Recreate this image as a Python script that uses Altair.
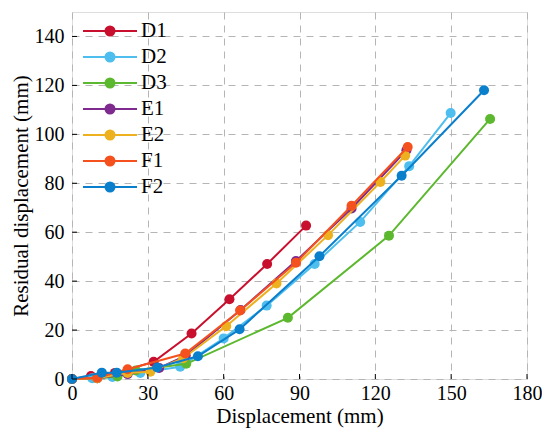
import altair as alt
import pandas as pd

series = ["D1", "D2", "D3", "E1", "E2", "F1", "F2"]
colors = ["#C8102E", "#4DBEEE", "#5CB82E", "#7E2A8E", "#EDB120", "#F4511E", "#0A7FCC"]

d1_x = [0, 7.5, 17, 32.3, 47.3, 62.3, 77.2, 92.6]
d1_y = [0, 1.2, 2.5, 7.0, 18.6, 32.6, 47.0, 62.7]
d2_x = [0, 8, 16, 27, 42.8, 60.0, 77.0, 96.0, 114.0, 133.4, 149.8]
d2_y = [0, 0.3, 0.8, 2.5, 5.0, 16.6, 30.0, 47.0, 64.2, 87.0, 108.7]
d3_x = [0, 10, 18, 25.3, 45.2, 85.4, 125.4, 165.4]
d3_y = [0, 0.3, 1.0, 3.5, 6.2, 25.0, 58.6, 106.3]
e1_x = [0, 10, 22, 34.5, 45, 66.7, 88.6, 110.6, 132.3]
e1_y = [0, 0.3, 2.0, 4.5, 9.5, 28.2, 48.2, 69.7, 93.5]
e2_x = [0, 10, 22, 31, 44, 61, 80.9, 101.3, 122, 131.8]
e2_y = [0, 0.3, 2.5, 3.0, 8.5, 21.6, 39.0, 58.8, 80.5, 91.3]
f1_x = [0, 10, 22, 44.8, 66.5, 88.6, 110.6, 132.8]
f1_y = [0, 0.5, 4.0, 10.4, 28.0, 47.5, 70.8, 94.8]
f2_x = [0, 11.8, 17.7, 33.7, 49.8, 66.3, 97.9, 130.4, 163.0]
f2_y = [0, 2.6, 2.6, 4.7, 9.3, 20.3, 50.2, 83.1, 118.0]

x_ticks = [0, 30, 60, 90, 120, 150, 180]
y_ticks = [0, 20, 40, 60, 80, 100, 120, 140]

xs = [d1_x, d2_x, d3_x, e1_x, e2_x, f1_x, f2_x]
ys = [d1_y, d2_y, d3_y, e1_y, e2_y, f1_y, f2_y]
rows = []
for s, xv, yv in zip(series, xs, ys):
    for i, (a, b) in enumerate(zip(xv, yv)):
        rows.append({"series": s, "x": a, "y": b, "i": i})
df = pd.DataFrame(rows)

FONT = "'Liberation Serif', 'Times New Roman', Times, serif"

xscale = alt.Scale(domain=[0, 180], nice=False, zero=False)
yscale = alt.Scale(domain=[0, 150], nice=False, zero=False)
cscale = alt.Scale(domain=series, range=colors)

# symbol: size 400 -> unit = 10px; line 54px wide, circle radius ~4.5px
sym = "M-1.7,0L3.7,0M0.55,0A0.45,0.45,0,1,0,1.45,0A0.45,0.45,0,1,0,0.55,0Z"
legend = alt.Legend(
    title=None, orient="none", legendX=17, legendY=8,
    symbolType=sym, symbolSize=400, symbolStrokeWidth=2,
    labelFont=FONT, labelFontSize=21, labelColor="black",
    rowPadding=5, labelOffset=30, padding=0,
)

xaxis = alt.Axis(values=x_ticks, title="Displacement (mm)", grid=True, gridDash=[7, 6],
                 gridColor="#b5b5b5", gridWidth=1, ticks=False, domain=False,
                 labelFont=FONT, labelFontSize=20, labelColor="black", labelPadding=4,
                 labelFlush=False,
                 titleFont=FONT, titleFontSize=21, titleFontWeight="normal",
                 titleColor="black", titlePadding=2)
yaxis = alt.Axis(values=y_ticks, title="Residual displacement (mm)", grid=True, gridDash=[7, 6],
                 gridColor="#b5b5b5", gridWidth=1, ticks=False, domain=False,
                 labelFont=FONT, labelFontSize=20, labelColor="black", labelPadding=8,
                 labelFlush=False,
                 titleFont=FONT, titleFontSize=21, titleFontWeight="normal",
                 titleColor="black", titlePadding=3)

X = alt.X("x:Q", scale=xscale, axis=xaxis)
Y = alt.Y("y:Q", scale=yscale, axis=yaxis)
C = alt.Color("series:N", scale=cscale, legend=legend)

layers = []
for s in series:
    base = alt.Chart(df).transform_filter(alt.datum.series == s)
    layers.append(base.mark_line(strokeWidth=2).encode(x=X, y=Y, color=C, order="i:Q"))
    layers.append(base.mark_circle(size=100, opacity=1).encode(x=X, y=Y, color=C))

xt = pd.DataFrame({"x": x_ticks})
yt = pd.DataFrame({"y": y_ticks})
xtick_layer = alt.Chart(xt).mark_rule(color="black", strokeWidth=1).encode(
    x=X, y=alt.value(367), y2=alt.value(362))
ytick_layer = alt.Chart(yt).mark_rule(color="black", strokeWidth=1).encode(
    y=Y, x=alt.value(0), x2=alt.value(5))

chart = alt.layer(*layers, xtick_layer, ytick_layer).properties(
    width=455, height=367,
    padding={"left": 64, "top": 4, "right": 15, "bottom": 50},
    autosize=alt.AutoSizeParams(type="none"),
).configure_view(stroke="black", strokeWidth=1.5).configure(background="white")

chart.save("out.html", embed_options={"renderer": "svg", "actions": False})
